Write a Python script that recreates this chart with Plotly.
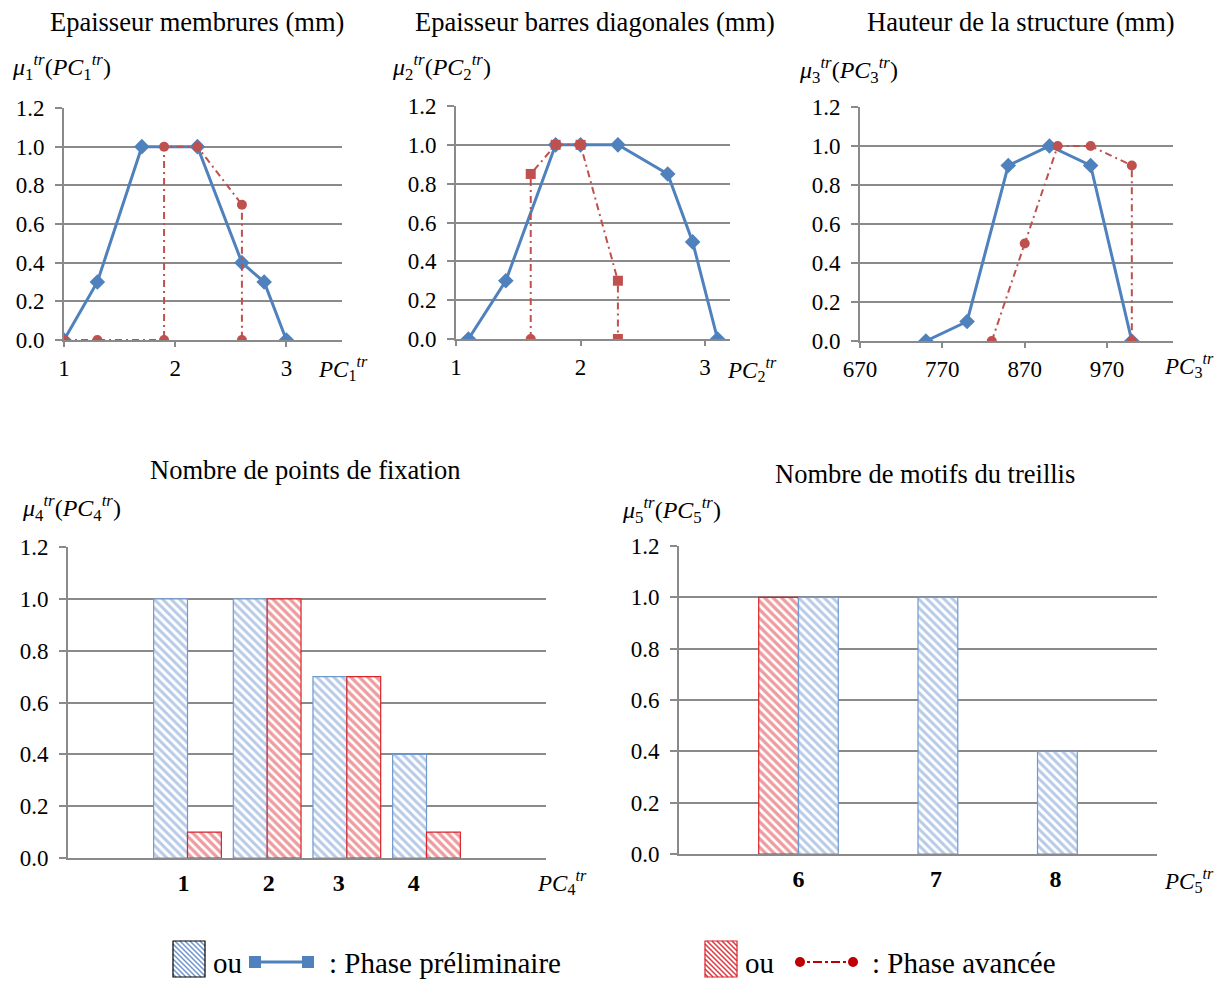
import plotly.graph_objects as go

W, H = 1223, 981
OFF = 8  # page body margin of the html output

# Epaisseur membrures (mm)
x1_pre = [1.0, 1.3, 1.7, 2.2, 2.6, 2.8, 3.0]
y1_pre = [0.0, 0.3, 1.0, 1.0, 0.4, 0.3, 0.0]
x1_av = [1.0, 1.3, 1.9, 1.9, 2.2, 2.6, 2.6]
y1_av = [0.0, 0.0, 0.0, 1.0, 1.0, 0.7, 0.0]

# Epaisseur barres diagonales (mm)
x2_pre = [1.1, 1.4, 1.8, 2.0, 2.3, 2.7, 2.9, 3.1]
y2_pre = [0.0, 0.3, 1.0, 1.0, 1.0, 0.85, 0.5, 0.0]
x2_av = [1.6, 1.6, 1.8, 2.0, 2.3, 2.3]
y2_av = [0.0, 0.85, 1.0, 1.0, 0.3, 0.0]

# Hauteur de la structure (mm)
x3_pre = [750, 800, 850, 900, 950, 1000]
y3_pre = [0.0, 0.1, 0.9, 1.0, 0.9, 0.0]
x3_av = [830, 870, 910, 950, 1000, 1000]
y3_av = [0.0, 0.5, 1.0, 1.0, 0.9, 0.0]

# Nombre de points de fixation
cat4 = [1, 2, 3, 4]
pre4 = [1.0, 1.0, 0.7, 0.4]
av4 = [0.1, 1.0, 0.7, 0.1]

# Nombre de motifs du treillis
cat5 = [6, 7, 8]
pre5 = [1.0, 1.0, 0.4]
av5 = [1.0, None, None]

titles = ["Epaisseur membrures (mm)", "Epaisseur barres diagonales (mm)",
          "Hauteur de la structure (mm)", "Nombre de points de fixation",
          "Nombre de motifs du treillis"]

BLUE = "#4F81BD"
RED = "#C0504D"
GRID = "#8A8A8A"
SERIF = "Liberation Serif"


def px(x):
    return (x - OFF) / W


def py(y):
    return 1 - (y - OFF) / H


fig = go.Figure()

line_pre = dict(color=BLUE, width=3)
line_av = dict(color=RED, width=2, dash="7px,4px,2px,4px")

fig.add_trace(go.Scatter(x=x1_pre, y=y1_pre, mode="lines+markers", line=line_pre,
                         marker=dict(symbol="diamond", size=12, color=BLUE), xaxis="x", yaxis="y"))
fig.add_trace(go.Scatter(x=x1_av, y=y1_av, mode="lines+markers", line=line_av,
                         marker=dict(symbol="circle", size=10, color=RED), xaxis="x", yaxis="y"))
fig.add_trace(go.Scatter(x=x2_pre, y=y2_pre, mode="lines+markers", line=line_pre,
                         marker=dict(symbol="diamond", size=12, color=BLUE), xaxis="x2", yaxis="y2"))
fig.add_trace(go.Scatter(x=x2_av, y=y2_av, mode="lines+markers", line=line_av,
                         marker=dict(symbol=["circle"] + ["square"] * 5, size=10, color=RED),
                         xaxis="x2", yaxis="y2"))
fig.add_trace(go.Scatter(x=x3_pre, y=y3_pre, mode="lines+markers", line=line_pre,
                         marker=dict(symbol="diamond", size=12, color=BLUE), xaxis="x3", yaxis="y3"))
fig.add_trace(go.Scatter(x=x3_av, y=y3_av, mode="lines+markers", line=line_av,
                         marker=dict(symbol="circle", size=10, color=RED), xaxis="x3", yaxis="y3"))

bar_pre = dict(color="white", line=dict(color="#7099D0", width=1.2),
               pattern=dict(shape="\\", fgcolor="#6F96CF", bgcolor="white", size=6, solidity=0.5))
bar_av = dict(color="white", line=dict(color="#D8232A", width=1.2),
              pattern=dict(shape="\\", fgcolor="#DC3A41", bgcolor="white", size=6, solidity=0.55))

fig.add_trace(go.Bar(x=cat4, y=pre4, width=0.425, offset=-0.425, marker=bar_pre, xaxis="x4", yaxis="y4"))
fig.add_trace(go.Bar(x=cat4, y=av4, width=0.425, offset=0, marker=bar_av, xaxis="x4", yaxis="y4"))
fig.add_trace(go.Bar(x=cat5, y=av5, width=0.333, offset=-0.333, marker=bar_av, xaxis="x5", yaxis="y5"))
fig.add_trace(go.Bar(x=cat5, y=pre5, width=0.333, offset=0, marker=bar_pre, xaxis="x5", yaxis="y5"))

# subplot boxes (pixels): left, right, top, bottom
boxes = [(64, 342, 108, 340), (456, 730, 106, 339), (860, 1173, 107, 341),
         (68, 546, 547, 858), (679, 1157, 546, 854)]
xranges = [[1, 3.5], [1, 3.2], [670, 1050], [-0.5, 5.5], [5, 9]]

tickfont = dict(family=SERIF, size=23, color="black")
for i, (l, r, t, b) in enumerate(boxes):
    sx = "" if i == 0 else str(i + 1)
    xa = dict(domain=[px(l), px(r)], range=xranges[i], anchor="y" + sx, automargin=False,
              showgrid=False, zeroline=False, showline=True, linecolor=GRID, linewidth=2,
              ticks="outside", ticklen=5, tickcolor=GRID, tickwidth=2, tickfont=tickfont,
              ticklabelstandoff=1)
    ya = dict(domain=[py(b), py(t)], range=[0, 1.2], anchor="x" + sx, automargin=False,
              tickvals=[0, 0.2, 0.4, 0.6, 0.8, 1.0, 1.2], tickformat=".1f",
              showgrid=True, gridcolor=GRID, gridwidth=2, zeroline=False,
              showline=True, linecolor=GRID, linewidth=2,
              ticks="outside", ticklen=7, tickcolor=GRID, tickwidth=2, tickfont=tickfont,
              ticklabelstandoff=6)
    fig.layout["xaxis" + sx] = xa
    fig.layout["yaxis" + sx] = ya

fig.layout.xaxis.update(tickvals=[1, 2, 3])
fig.layout.xaxis2.update(tickvals=[1, 2, 3])
fig.layout.xaxis3.update(tickvals=[670, 770, 870, 970])
bold = dict(family=SERIF, size=24, color="black")
fig.layout.xaxis4.update(tickvals=[c + d for c, d in zip(cat4, [-0.05, 0.02, -0.1, -0.16])],
                         ticktext=["<b>%d</b>" % c for c in cat4], ticks="", tickfont=bold,
                         ticklabelstandoff=2)
fig.layout.xaxis5.update(tickvals=[c + d for c, d in zip(cat5, [0, 0.15, 0.15])],
                         ticktext=["<b>%d</b>" % c for c in cat5], ticks="", tickfont=bold,
                         ticklabelstandoff=2)

ann = []
title_pos = [(197, 22), (595, 22), (1021, 22), (305, 470), (925, 474)]
for txt, (x, y) in zip(titles, title_pos):
    ann.append(dict(x=px(x), y=py(y), text=txt, showarrow=False, xanchor="center", yanchor="middle",
                    xref="paper", yref="paper", font=dict(family=SERIF, size=26.5, color="black")))

mu_pos = [(10, 67), (390, 67), (797, 70), (20, 508), (620, 510)]
pc_pos = [(370, 368), (779, 369), (1216, 365), (589, 882), (1216, 880)]
for k, ((mx, my), (cx, cy)) in enumerate(zip(mu_pos, pc_pos), start=1):
    ann.append(dict(x=px(mx), y=py(my), showarrow=False, xanchor="left", yanchor="middle",
                    xref="paper", yref="paper",
                    text="<i>μ</i><sub>%d</sub><sup><i>tr</i></sup>(<i>PC</i><sub>%d</sub><sup><i>tr</i></sup>)" % (k, k),
                    font=dict(family=SERIF, size=24, color="black")))
    ann.append(dict(x=px(cx), y=py(cy), showarrow=False, xanchor="right", yanchor="middle",
                    xref="paper", yref="paper",
                    text="<i>PC</i><sub>%d</sub><sup><i>tr</i></sup>" % k,
                    font=dict(family=SERIF, size=23, color="black")))

# legend
legend_items = [
    (173, "black", "#6F96CF", 249, 314, BLUE, "square", ": Phase préliminaire", 327),
    (705, "#D8232A", "#DC3A41", 795, 858, "#C00000", "circle", ": Phase avancée", 870),
]
shapes = []
for bx, edge, hatch, lx0, lx1, lc, sym, label, tx in legend_items:
    x0, x1, y0, y1 = bx, bx + 32, 941, 977
    segs = []
    c = y0 - x1
    while c < y1 - x0:
        xa_, xb_ = max(x0, y0 - c), min(x1, y1 - c)
        if xb_ > xa_:
            segs.append("M%.4f,%.4f L%.4f,%.4f" % (px(xa_), py(xa_ + c), px(xb_), py(xb_ + c)))
        c += 5
    shapes.append(dict(type="path", path=" ".join(segs), xref="paper", yref="paper",
                       line=dict(color=hatch, width=1.5)))
    shapes.append(dict(type="rect", x0=px(x0), x1=px(x1), y0=py(y1), y1=py(y0), xref="paper", yref="paper",
                       line=dict(color=edge, width=1.2)))
    ly = 962
    if sym == "square":
        shapes.append(dict(type="line", x0=px(lx0), x1=px(lx1), y0=py(ly), y1=py(ly), xref="paper",
                           yref="paper", line=dict(color=lc, width=3)))
        for xx in (lx0 + 6, lx1 - 6):
            shapes.append(dict(type="rect", x0=px(xx - 6), x1=px(xx + 6), y0=py(ly + 6), y1=py(ly - 6),
                               xref="paper", yref="paper", fillcolor=lc, line=dict(width=0)))
    else:
        shapes.append(dict(type="line", x0=px(lx0), x1=px(lx1), y0=py(ly), y1=py(ly), xref="paper",
                           yref="paper", line=dict(color=lc, width=2, dash="dashdot")))
        for xx in (lx0 + 5, lx1 - 5):
            shapes.append(dict(type="circle", x0=px(xx - 5), x1=px(xx + 5), y0=py(ly + 5), y1=py(ly - 5),
                               xref="paper", yref="paper", fillcolor=lc, line=dict(width=0)))
    ann.append(dict(x=px(bx + 38), y=py(ly + 1), text="ou", showarrow=False, xanchor="left",
                    yanchor="middle", xref="paper", yref="paper",
                    font=dict(family=SERIF, size=29, color="black")))
    ann.append(dict(x=px(tx), y=py(ly + 1), text=label, showarrow=False, xanchor="left",
                    yanchor="middle", xref="paper", yref="paper",
                    font=dict(family=SERIF, size=29, color="black")))

fig.update_layout(
    width=W, height=H,
    margin=dict(l=0, r=0, t=0, b=0, pad=0, autoexpand=False),
    paper_bgcolor="white", plot_bgcolor="white",
    showlegend=False, barmode="overlay",
    annotations=ann, shapes=shapes,
)

fig.write_html("out.html")
